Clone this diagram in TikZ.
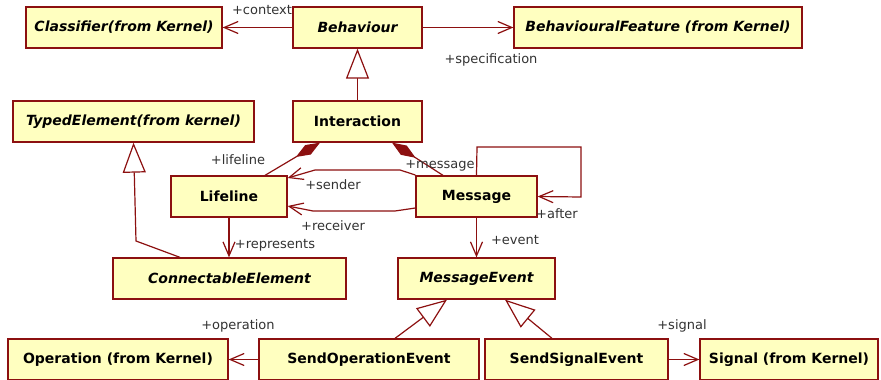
\documentclass[tikz,border=0pt]{standalone}
\usepackage{fontspec}
\setmainfont{DejaVu Sans}
\usetikzlibrary{arrows.meta}
\definecolor{umlred}{RGB}{140,16,16}
\definecolor{umlfill}{RGB}{255,255,192}
\definecolor{labgrey}{RGB}{50,50,50}

\begin{document}
\begin{tikzpicture}[x=1pt,y=-1pt,
  cls/.style={draw=umlred,fill=umlfill,line width=1.3pt,minimum height=41pt,inner sep=0pt,font=\fontsize{14}{16}\selectfont\bfseries},
  abscls/.style={cls,font=\fontsize{14}{16}\selectfont\bfseries\itshape},
  role/.style={text=labgrey,inner sep=0pt,font=\fontsize{13}{15}\selectfont},
  assoc/.style={draw=umlred,line width=1.2pt,-{Straight Barb[length=14pt,width=12pt]}},
  gen/.style={draw=umlred,line width=1.2pt,-{Triangle[open,length=30pt,width=23pt,fill=white]}},
  comp/.style={draw=umlred,line width=1.2pt,-{Diamond[length=28pt,width=11pt]}}]
  \useasboundingbox (0,0) rectangle (881,380);

  \node[abscls,minimum width=196pt] (cls) at (124,27.5) {Classifier(from Kernel)};
  \node[abscls,minimum width=129pt] (beh) at (357.5,27.5) {Behaviour};
  \node[abscls,minimum width=288pt] (bf) at (658,27.5) {BehaviouralFeature (from Kernel)};
  \node[abscls,minimum width=241pt] (te) at (133.5,121.5) {TypedElement(from kernel)};
  \node[cls,minimum width=129pt] (ia) at (357.5,121.5) {Interaction};
  \node[cls,minimum width=116pt] (ll) at (229,196.5) {Lifeline};
  \node[cls,minimum width=121pt] (msg) at (476.5,196.5) {Message};
  \node[abscls,minimum width=233pt] (ce) at (229.5,278.5) {ConnectableElement};
  \node[abscls,minimum width=157pt] (me) at (476.5,278.5) {MessageEvent};
  \node[cls,minimum width=220pt] (op) at (118,359.5) {Operation (from Kernel)};
  \node[cls,minimum width=220pt] (soe) at (369,359.5) {SendOperationEvent};
  \node[cls,minimum width=183pt] (sse) at (576.5,359.5) {SendSignalEvent};
  \node[cls,minimum width=178pt] (sig) at (789,359.5) {Signal (from Kernel)};

  \draw[assoc] (beh.west) -- (cls.east);
  \draw[assoc] (beh.east) -- (bf.west);
  \draw[gen] (ia.north) -- (beh.south);
  \draw[gen] ([xshift=-49.5pt]ce.north) -- (136,241) -- (te.south);
  \draw[assoc] (ll.south) -- (ll.south |- ce.north);
  \draw[comp] ([xshift=36pt]ll.north) -- ([xshift=-37.5pt]ia.south);
  \draw[comp] ([xshift=-33.5pt]msg.north) -- ([xshift=34.5pt]ia.south);
  \draw[assoc] ([yshift=21.5pt]msg.west) -- (400,170) -- (315,170) -- ([yshift=18.5pt]ll.east);
  \draw[assoc] ([yshift=-11.5pt]msg.west) -- (395,211) -- (313,211) -- ([yshift=-9.5pt]ll.east);
  \draw[assoc] (msg.north) -- (477,147) -- (581,147) -- (581,197) -- (msg.east);
  \draw[assoc] (msg.south) -- (msg.south |- me.north);
  \draw[gen] ([xshift=26pt]soe.north) -- ([xshift=-29.5pt]me.south);
  \draw[gen] ([xshift=-24.5pt]sse.north) -- ([xshift=28.5pt]me.south);
  \draw[assoc] (soe.west) -- (op.east);
  \draw[assoc] (sse.east) -- (sig.west);

  \node[role] (lcontext) at (262,10) {+context};
  \node[role] (lspec) at (491,60) {+specification};
  \node[role] (llifeline) at (238,160) {+lifeline};
  \node[role] (lmessage) at (440,166) {+message};
  \node[role] (lsender) at (333,185) {+sender};
  \node[role] (lreceiver) at (333,226) {+receiver};
  \node[role] (lrepresents) at (275,245) {+represents};
  \node[role] (lafter) at (557,214) {+after};
  \node[role] (levent) at (515,240) {+event};
  \node[role] (loperation) at (238,326) {+operation};
  \node[role] (lsignal) at (682,326) {+signal};
\end{tikzpicture}
\end{document}
